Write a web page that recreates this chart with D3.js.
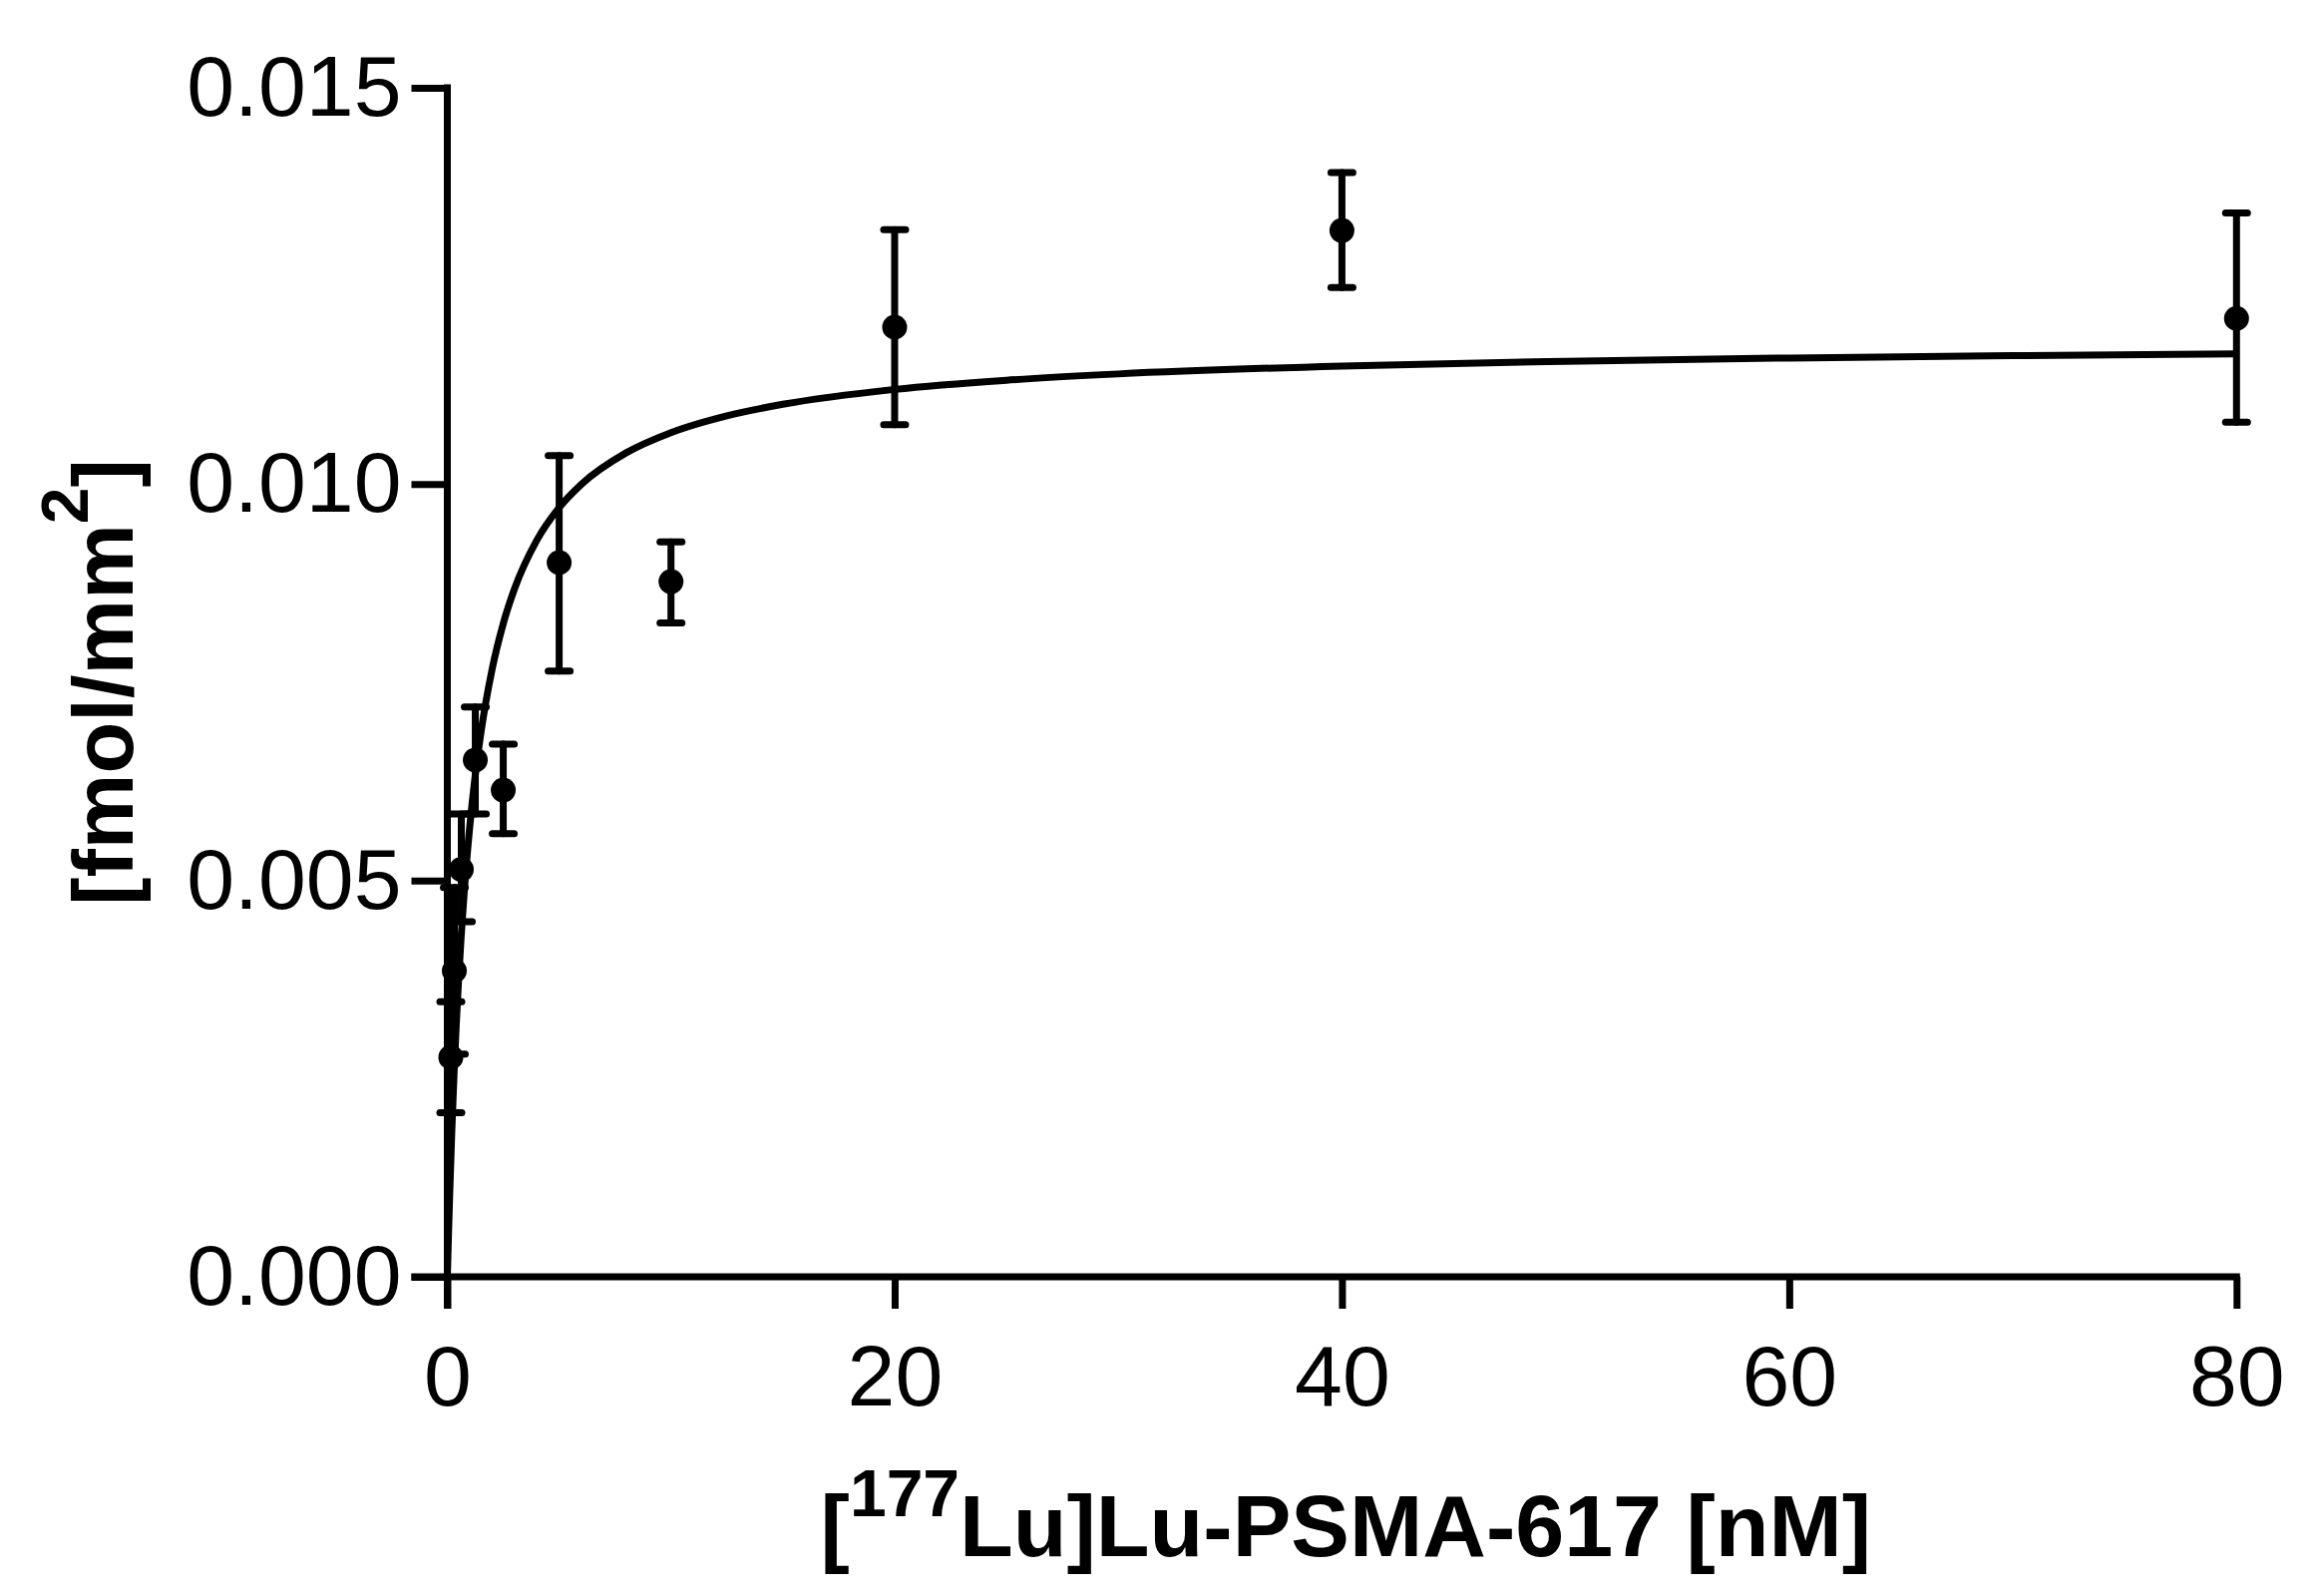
<!DOCTYPE html>
<html>
<head>
<meta charset="utf-8">
<script src="https://cdn.jsdelivr.net/npm/d3@7"></script>
<style>
  html, body { margin: 0; padding: 0; background: #fff; }
  svg { display: block; }
  text { font-family: "Liberation Sans", Arial, sans-serif; fill: #000; }
</style>
</head>
<body>
<svg id="chart" width="2325" height="1600"></svg>
<script>
// ---- Data ----
const concentrations = [0.156, 0.3125, 0.625, 1.25, 2.5, 5, 10, 20, 40, 80];          // nM
const meanValues     = [0.00277, 0.00386, 0.00514, 0.00652, 0.00614, 0.00901, 0.00877, 0.01198, 0.01320, 0.01209];
const upperValues    = [0.00347, 0.00491, 0.00584, 0.00719, 0.00672, 0.01036, 0.00927, 0.01321, 0.01393, 0.01342];
const lowerValues    = [0.00207, 0.00281, 0.00448, 0.00584, 0.00559, 0.00764, 0.00825, 0.01075, 0.01248, 0.01078];

// fitted saturation curve
const curveX = [0, 0.05, 0.1, 0.2, 0.3, 0.4, 0.5, 0.75, 1, 1.25, 1.5, 2, 2.5, 3, 4, 5, 6, 8, 10, 12.5, 15, 20, 25, 30, 40, 50, 60, 70, 80];
const curveY = [0, 0.000522, 0.001000, 0.001844, 0.002565, 0.003189, 0.003734, 0.004836, 0.005673, 0.006330, 0.006860,
                0.007662, 0.008240, 0.008676, 0.009291, 0.009704, 0.010000, 0.010396, 0.010650, 0.010862, 0.011007,
                0.011195, 0.011311, 0.011390, 0.011490, 0.011550, 0.011591, 0.011621, 0.011643];

const xTicks = [0, 20, 40, 60, 80];
const yTicks = [0, 0.005, 0.010, 0.015];
const xTitleMain1 = "[";
const xTitleSup = "177";
const xTitleMain2 = "Lu]Lu-PSMA-617 [nM]";
const yTitleMain1 = "[fmol/mm";
const yTitleSup = "2";
const yTitleMain2 = "]";

// ---- Layout ----
const svg = d3.select("#chart");
const x = d3.scaleLinear().domain([0, 80]).range([448.5, 2242.3]);
const y = d3.scaleLinear().domain([0, 0.015]).range([1280, 88]);
const lw = 7;
const tickLen = 36;

// Y axis
const yAxis = d3.axisLeft(y).tickValues(yTicks).tickFormat(d3.format(".3f"))
  .tickSize(tickLen).tickSizeOuter(0).tickPadding(10);
const gy = svg.append("g").attr("transform", `translate(${x(0)},0)`).call(yAxis);
gy.select(".domain").remove();
gy.selectAll(".tick line").attr("stroke", "#000").attr("stroke-width", lw);
gy.selectAll(".tick text").attr("font-size", 86).attr("font-family", "Liberation Sans, Arial, sans-serif").attr("fill", "#000");

// X axis
const xAxis = d3.axisBottom(x).tickValues(xTicks).tickFormat(d3.format("d"))
  .tickSize(32).tickSizeOuter(0).tickPadding(36);
const gx = svg.append("g").attr("transform", `translate(0,${y(0)})`).call(xAxis);
gx.select(".domain").remove();
gx.selectAll(".tick line").attr("stroke", "#000").attr("stroke-width", lw);
gx.selectAll(".tick text").attr("font-size", 86).attr("font-family", "Liberation Sans, Arial, sans-serif").attr("fill", "#000");

// Axis lines
svg.append("line")
  .attr("x1", x(0)).attr("x2", x(0))
  .attr("y1", y(0.015) - lw / 2).attr("y2", y(0) + 32)
  .attr("stroke", "#000").attr("stroke-width", lw);
svg.append("line")
  .attr("x1", x(0) - tickLen).attr("x2", x(80) + lw / 2)
  .attr("y1", y(0)).attr("y2", y(0))
  .attr("stroke", "#000").attr("stroke-width", lw);

// Fit curve
const line = d3.line().x((d, i) => x(curveX[i])).y(d => y(d)).curve(d3.curveMonotoneX);
svg.append("path")
  .attr("d", line(curveY))
  .attr("fill", "none").attr("stroke", "#000").attr("stroke-width", lw)
  .attr("stroke-linejoin", "round");

// Error bars
const capHalf = 11;
const eb = svg.append("g").attr("stroke", "#000").attr("stroke-width", lw).attr("stroke-linecap", "round");
concentrations.forEach((c, i) => {
  const cx = x(c);
  eb.append("line").attr("x1", cx).attr("x2", cx).attr("y1", y(lowerValues[i])).attr("y2", y(upperValues[i]));
  eb.append("line").attr("x1", cx - capHalf).attr("x2", cx + capHalf).attr("y1", y(upperValues[i])).attr("y2", y(upperValues[i]));
  eb.append("line").attr("x1", cx - capHalf).attr("x2", cx + capHalf).attr("y1", y(lowerValues[i])).attr("y2", y(lowerValues[i]));
});

// Points
svg.append("g").selectAll("circle")
  .data(meanValues)
  .join("circle")
  .attr("cx", (d, i) => x(concentrations[i]))
  .attr("cy", d => y(d))
  .attr("r", 12.5)
  .attr("fill", "#000");

// X title
const xt = svg.append("text")
  .attr("x", (x(0) + x(80)) / 2 + 4).attr("y", 1560)
  .attr("text-anchor", "middle")
  .attr("font-size", 88).attr("font-weight", "bold");
xt.append("tspan").text(xTitleMain1);
xt.append("tspan").attr("font-size", 66).attr("dy", -40).text(xTitleSup);
xt.append("tspan").attr("dy", 40).text(xTitleMain2);

// Y title
const yt = svg.append("text")
  .attr("transform", `translate(133,${(y(0) + y(0.015)) / 2}) rotate(-90)`)
  .attr("text-anchor", "middle")
  .attr("font-size", 85).attr("font-weight", "bold");
yt.append("tspan").text(yTitleMain1);
yt.append("tspan").attr("font-size", 66).attr("dy", -45).text(yTitleSup);
yt.append("tspan").attr("dy", 45).text(yTitleMain2);
</script>
</body>
</html>
